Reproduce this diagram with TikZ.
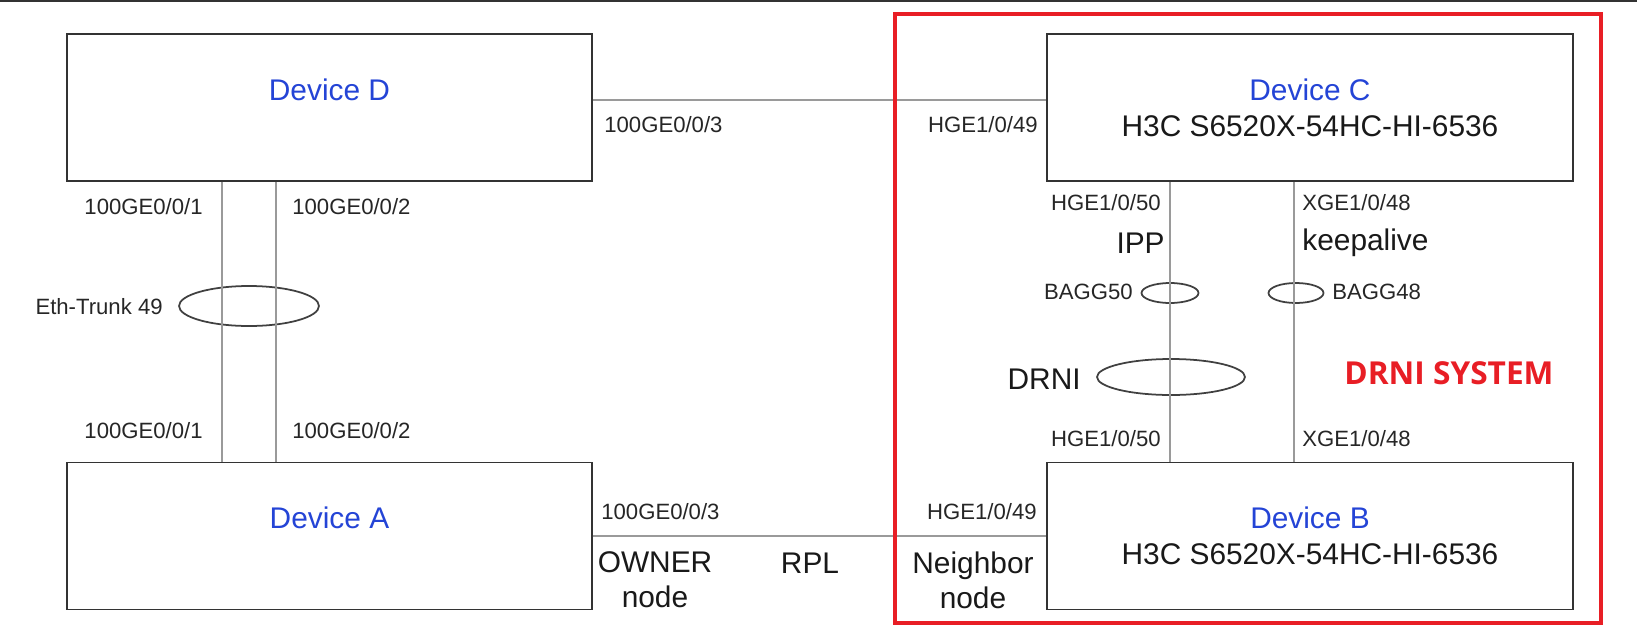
\documentclass[tikz,border=0pt]{standalone}
\usepackage{fontspec}
\setmainfont{Liberation Sans}
\newfontfamily\drnifont{Open Sans}
\usepackage{tikz}
\usetikzlibrary{shapes.geometric}
\definecolor{devblue}{HTML}{2444D6}
\definecolor{drnired}{HTML}{E81E25}
\definecolor{linkgray}{HTML}{9A9A9A}
\definecolor{boxgray}{HTML}{333333}
\tikzstyle{device}=[rectangle, draw=boxgray, line width=1.1pt, minimum width=10.52cm,
                    minimum height=2.94cm, align=center, text=black!90,
                    font=\fontsize{17}{20.4}\selectfont]
\tikzstyle{port}=[inner sep=0pt, text=black!85, font=\fontsize{12.6}{15}\selectfont]
\tikzstyle{role}=[inner sep=0pt, align=center, text=black!90,
                    font=\fontsize{17}{20}\selectfont]
\tikzstyle{bagg}=[ellipse, draw=black!75, line width=1pt, inner sep=0pt]
\tikzstyle{link}=[draw=linkgray, line width=0.8pt]

\begin{document}
\begin{tikzpicture}[x=0.02cm, y=-0.02cm]
    \useasboundingbox (0,0) rectangle (1637,636);
    \fill[black!80] (0,0) rectangle (1637,2);
    \node[device] (D) at (329.5,107.5) {{\color{devblue}Device D}\\\phantom{D}};
    \node[device] (C) at (1310,107.5) {{\color{devblue}Device C}\\H3C S6520X-54HC-HI-6536};
    \node[device] (A) at (329.5,536) {{\color{devblue}Device A}\\\phantom{A}};
    \node[device] (B) at (1310,536) {{\color{devblue}Device B}\\H3C S6520X-54HC-HI-6536};
    \node[bagg, minimum width=2.8cm, minimum height=0.8cm] (eth) at (249,306) {};
    \node[bagg, minimum width=1.14cm, minimum height=0.4cm] (b50) at (1170,293) {};
    \node[bagg, minimum width=1.1cm, minimum height=0.4cm] (b48) at (1296,293) {};
    \node[bagg, minimum width=2.96cm, minimum height=0.72cm] (drni) at (1171,377) {};
    \draw[link] ([yshift=4.25pt]D.east) -- ([yshift=4.25pt]C.west);
    \draw[link] (A.east) -- (B.west);
    \foreach \dx in {-2.15cm, -1.07cm}
      \draw[link] ([xshift=\dx]D.south) -- ([xshift=\dx]A.north);
    \foreach \dx in {-2.8cm, -0.32cm}
      \draw[link] ([xshift=\dx]C.south) -- ([xshift=\dx]B.north);
    % port labels
    \node[port, anchor=east] (p1a) at (203,207) {100GE0/0/1};
    \node[port, anchor=west] (p2a) at (292,207) {100GE0/0/2};
    \node[port, anchor=east] (p1b) at (203,431) {100GE0/0/1};
    \node[port, anchor=west] (p2b) at (292,431) {100GE0/0/2};
    \node[port, anchor=east] (ethlbl) at (163,307) {Eth-Trunk 49};
    \node[port, anchor=west] (p3a) at (604,125) {100GE0/0/3};
    \node[port, anchor=west] (p3b) at (601,512) {100GE0/0/3};
    \node[port, anchor=east] (h49a) at (1038,125) {HGE1/0/49};
    \node[port, anchor=east] (h49b) at (1037,512) {HGE1/0/49};
    \node[port, anchor=east] (h50a) at (1161,203) {HGE1/0/50};
    \node[port, anchor=east] (h50b) at (1161,439) {HGE1/0/50};
    \node[port, anchor=west] (x48a) at (1302,203) {XGE1/0/48};
    \node[port, anchor=west] (x48b) at (1302,439) {XGE1/0/48};
    \node[port, anchor=east] (b50lbl) at (1133,292) {BAGG50};
    \node[port, anchor=west] (b48lbl) at (1332,292) {BAGG48};
    % roles
    \node[role, anchor=east] (ipp) at (1165,243) {IPP};
    \node[role, anchor=west] (keep) at (1302,243) {keepalive};
    \node[role, anchor=east] (drnilbl) at (1081,379) {DRNI};
    \node[role] (owner) at (655,580) {OWNER\\node};
    \node[role] (rpl) at (810,563) {RPL};
    \node[role] (neigh) at (973,580) {Neighbor\\node};
    \draw[drnired, line width=2.2pt] (895,14) rectangle (1601,623);
    \node[text=drnired, font=\drnifont\bfseries\fontsize{18}{20}\selectfont] (sys)
      at (1449,373) {DRNI SYSTEM};
\end{tikzpicture}
\end{document}
